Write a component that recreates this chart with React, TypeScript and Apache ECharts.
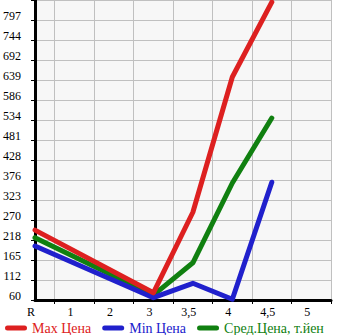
import React, { useEffect, useRef } from "react";
import * as echarts from "echarts";

const categories = ["R", "1", "2", "3", "3,5", "4", "4,5", "5"];
const yTickLabels = ["60", "112", "165", "218", "270", "323", "376", "428", "481", "534", "586", "639", "692", "744", "797"];
const maxPrice: (number | null)[] = [244, null, null, 79, 291, 647, 844, null];
const minPrice: (number | null)[] = [202, null, null, 66, 104, 62, 370, null];
const avgPrice: (number | null)[] = [224, null, null, 73, 158, 368, 539, null];
const seriesNames = ["Max Цена", "Min Цена", "Сред.Цена, т.йен"];
const seriesColors = ["#dd2020", "#2020cc", "#108010"];

const Y_MIN = 60;
const Y_STEP = (797 - 60) / 14;
const Y_MAX = Y_MIN + Y_STEP * 15;

function toPairs(arr: (number | null)[]) {
  const out: [number, number][] = [];
  arr.forEach((v, i) => {
    if (v !== null) out.push([i, v]);
  });
  return out;
}

const capsule = "path://M2.5,0 H19.5 A2.5,2.5 0 0 1 19.5,5 H2.5 A2.5,2.5 0 0 1 2.5,0 Z";

export default function App() {
  const ref = useRef<HTMLDivElement>(null);
  useEffect(() => {
    if (!ref.current) return;
    const chart = echarts.init(ref.current, undefined, { renderer: "svg" });
    const font = "'Liberation Serif', 'Times New Roman', serif";
    const data = [maxPrice, minPrice, avgPrice];
    const xLabelValues = categories.map((_, i) => i);
    const xTickValues = categories.map((_, i) => i + 0.5);
    const yLabelValues = yTickLabels.map((_, i) => Y_MIN + i * Y_STEP);
    chart.setOption({
      animation: false,
      backgroundColor: "#ffffff",
      textStyle: { fontFamily: font },
      grid: {
        left: 31,
        right: 14,
        top: 0,
        bottom: 35,
        show: true,
        backgroundColor: "#f7f7f7",
        borderWidth: 0,
        containLabel: false,
      },
      legend: {
        top: 316,
        left: 0,
        itemWidth: 22,
        itemHeight: 5,
        itemGap: 11,
        icon: capsule,
        data: seriesNames.map((n, i) => ({
          name: n,
          textStyle: { color: seriesColors[i] },
        })),
        textStyle: { fontFamily: font, fontSize: 14 },
      },
      xAxis: {
        type: "value",
        min: 0,
        max: 7.5,
        interval: 0.5,
        axisLine: { show: true, onZero: false, lineStyle: { color: "#000", width: 3 } },
        axisTick: {
          show: true,
          length: 4,
          customValues: xTickValues,
          lineStyle: { color: "#000", width: 1 },
        },
        splitLine: { show: true, lineStyle: { color: "#c0c0c0", width: 1 } },
        axisLabel: {
          color: "#000",
          fontSize: 12,
          fontFamily: font,
          margin: 6,
          padding: [0, 8, 0, 0],
          customValues: xLabelValues,
          formatter: (v: number) => categories[Math.round(v)] ?? "",
        },
      },
      yAxis: {
        type: "value",
        min: Y_MIN,
        max: Y_MAX,
        interval: Y_STEP,
        axisLine: { show: true, onZero: false, lineStyle: { color: "#000", width: 3 } },
        axisTick: { show: true, length: 4, lineStyle: { color: "#000", width: 1 } },
        splitLine: { show: true, lineStyle: { color: "#c0c0c0", width: 1 } },
        axisLabel: {
          color: "#000",
          fontSize: 12,
          fontFamily: font,
          margin: 14,
          verticalAlign: "bottom",
          lineHeight: 8,
          customValues: yLabelValues,
          formatter: (v: number) => {
            const idx = Math.round((v - Y_MIN) / Y_STEP);
            return idx >= 0 && idx < yTickLabels.length ? yTickLabels[idx] : "";
          },
        },
      },
      series: data.map((arr, i) => ({
        name: seriesNames[i],
        type: "line",
        data: toPairs(arr),
        symbol: "none",
        clip: false,
        color: seriesColors[i],
        lineStyle: { width: 5, color: seriesColors[i], cap: "round", join: "round" },
        z: 10 - i,
      })),
    });
    return () => chart.dispose();
  }, []);
  return (
    <div
      ref={ref}
      style={{ position: "fixed", left: 0, top: 0, width: 345, height: 335 }}
    />
  );
}
